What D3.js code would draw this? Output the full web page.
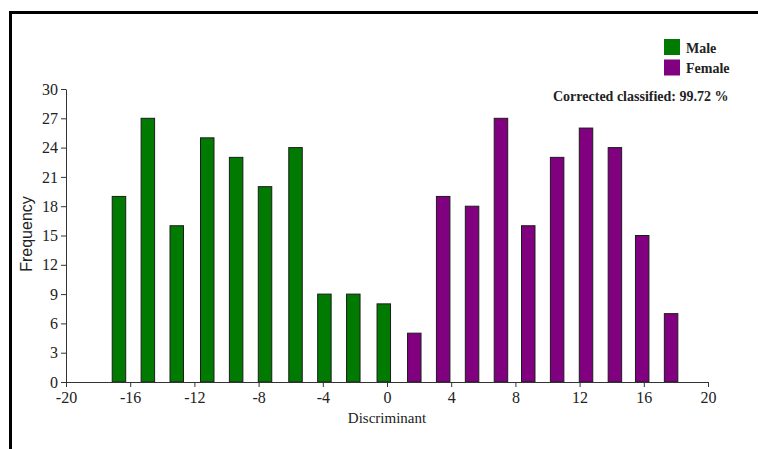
<!DOCTYPE html>
<html>
<head>
<meta charset="utf-8">
<script src="https://cdn.jsdelivr.net/npm/d3@7"></script>
<style>
  html, body { margin: 0; padding: 0; background: #fff; }
  svg { display: block; }
  .tick text { font-family: "Liberation Serif", "Times New Roman", serif; font-size: 16px; fill: #222; }
  .domain, .tick line { stroke: #333; stroke-width: 1px; }
</style>
</head>
<body>
<svg id="chart" width="758" height="449"></svg>
<script>
// Histogram of discriminant scores: bin centres and counts per group
const maleBins   = [-16.7, -14.9, -13.1, -11.2, -9.4, -7.6, -5.7, -3.9, -2.1, -0.2];
const maleCounts = [19, 27, 16, 25, 23, 20, 24, 9, 9, 8];
const femaleBins   = [1.7, 3.5, 5.3, 7.1, 8.8, 10.6, 12.4, 14.2, 15.9, 17.7];
const femaleCounts = [5, 19, 18, 27, 16, 23, 26, 24, 15, 7];

const xTicks = [-20, -16, -12, -8, -4, 0, 4, 8, 12, 16, 20];
const yTicks = [0, 3, 6, 9, 12, 15, 18, 21, 24, 27, 30];

const groups = [
  { name: "Male",   color: "#007a00", bins: maleBins,   counts: maleCounts },
  { name: "Female", color: "#800080", bins: femaleBins, counts: femaleCounts }
];
const accuracyText = "Corrected classified: 99.72 %";

const svg = d3.select("#chart");

// outer frame (left and top edges visible)
svg.append("path")
  .attr("d", "M10.5,449 L10.5,12.5 L758,12.5")
  .attr("fill", "none")
  .attr("stroke", "#000")
  .attr("stroke-width", 3);

const x = d3.scaleLinear().domain([-20, 20]).range([66, 708]);
const y = d3.scaleLinear().domain([0, 30]).range([382, 89]);
const barHalf = 0.42; // half bar width in discriminant units

// plain hyphen for negative tick labels
const fmt = d => String(d);

// bars
groups.forEach(g => {
  const rows = g.bins.map((b, i) => ({ c: b, n: g.counts[i] }));
  svg.append("g").selectAll("rect")
    .data(rows)
    .join("rect")
    .attr("x", d => x(d.c - barHalf))
    .attr("width", d => x(d.c + barHalf) - x(d.c - barHalf))
    .attr("y", d => y(d.n))
    .attr("height", d => y(0) - y(d.n))
    .attr("fill", g.color)
    .attr("stroke", "#1c1c1c")
    .attr("stroke-width", 1);
});

// axes
svg.append("g")
  .attr("transform", `translate(0,${y(0)})`)
  .call(d3.axisBottom(x).tickValues(xTicks).tickSizeInner(5).tickSizeOuter(0).tickPadding(5)
        .tickFormat(fmt));

svg.append("g")
  .attr("transform", `translate(${x(-20)},0)`)
  .call(d3.axisLeft(y).tickValues(yTicks).tickSizeInner(5).tickSizeOuter(0).tickPadding(3)
        .tickFormat(fmt));

// axis titles
svg.append("text")
  .attr("x", 387).attr("y", 423)
  .attr("text-anchor", "middle")
  .attr("font-family", "Liberation Serif, Times New Roman, serif")
  .attr("font-size", 15)
  .attr("fill", "#222")
  .text("Discriminant");

svg.append("text")
  .attr("transform", "translate(32,234) rotate(-90)")
  .attr("text-anchor", "middle")
  .attr("font-family", "Liberation Sans, Arial, sans-serif")
  .attr("font-size", 16)
  .attr("fill", "#222")
  .text("Frequency");

// legend
const legend = svg.append("g");
groups.forEach((g, i) => {
  legend.append("rect")
    .attr("x", 664).attr("y", 39 + i * 20.5)
    .attr("width", 16).attr("height", 16)
    .attr("fill", g.color);
  legend.append("text")
    .attr("x", 686).attr("y", 52.5 + i * 20.5)
    .attr("font-family", "Liberation Serif, Times New Roman, serif")
    .attr("font-weight", "bold")
    .attr("font-size", 14)
    .attr("fill", "#222")
    .text(g.name);
});

svg.append("text")
  .attr("x", 553).attr("y", 100.5)
  .attr("font-family", "Liberation Serif, Times New Roman, serif")
  .attr("font-weight", "bold")
  .attr("font-size", 14)
  .attr("fill", "#222")
  .text(accuracyText);
</script>
</body>
</html>
